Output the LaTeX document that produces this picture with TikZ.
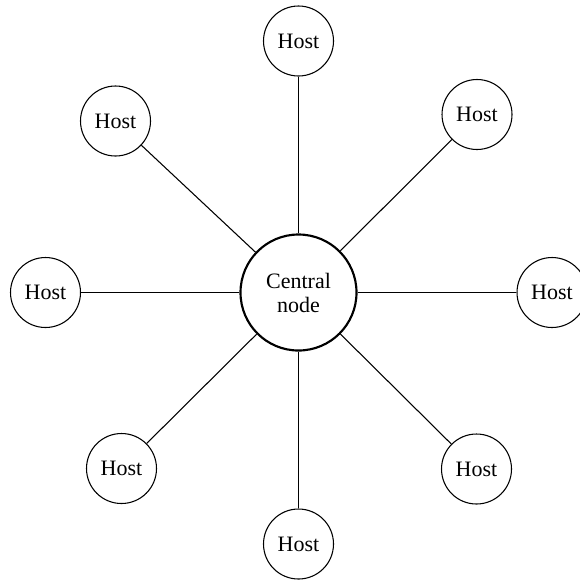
\documentclass[tikz,border=0pt]{standalone}
\usepackage{fontspec}
\setmainfont{Liberation Serif}
\begin{document}
\begin{tikzpicture}[x=0.75pt,y=-0.75pt,
  host/.style={circle,draw,line width=0.8pt,minimum size=52.5pt,inner sep=0pt,font=\fontsize{16.5}{19}\selectfont},
  hub/.style={circle,draw,line width=1.6pt,minimum size=87pt,inner sep=0pt,align=center,font=\fontsize{16.5}{18}\selectfont},
  link/.style={line width=0.8pt}]
\useasboundingbox (0,0) rectangle (580,579);
\node[hub] (c) at (298.5,292.5) {Central\\node};
\node[host] (n) at (298.5,41) {Host};
\node[host] (nw) at (115.5,121) {Host};
\node[host] (ne) at (477,114.5) {Host};
\node[host] (w) at (45.5,292.5) {Host};
\node[host] (e) at (552,292.5) {Host};
\node[host] (sw) at (121.5,468.5) {Host};
\node[host] (se) at (476.5,469) {Host};
\node[host] (s) at (298.5,544) {Host};
\foreach \h in {n,nw,ne,w,e,sw,se,s}
  \draw[link] (c) -- (\h);
\end{tikzpicture}
\end{document}
